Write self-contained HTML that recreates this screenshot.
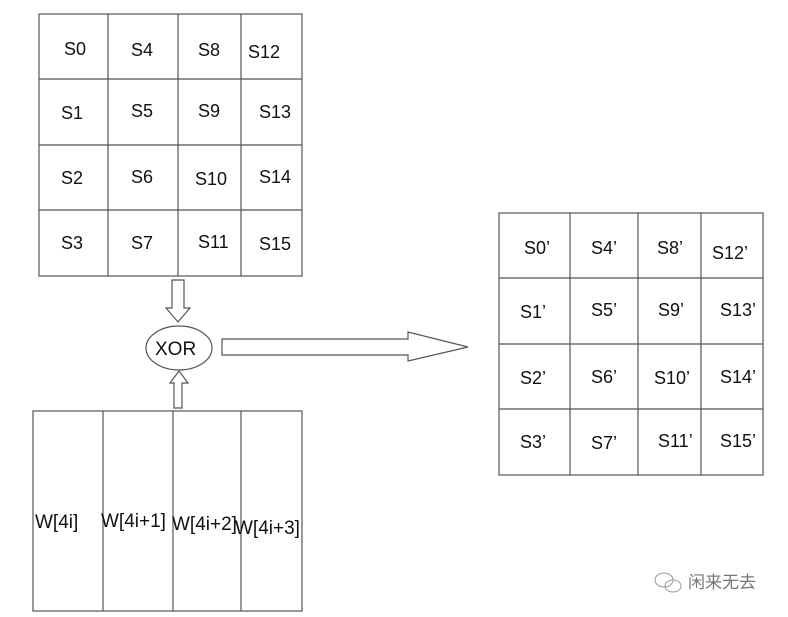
<!DOCTYPE html>
<html><head><meta charset="utf-8"><style>
html,body{margin:0;padding:0;background:#fff;width:788px;height:617px;overflow:hidden}
svg{display:block}
text{font-family:"Liberation Sans","Noto Sans CJK SC",sans-serif;fill:#111}
</style></head><body>
<svg width="788" height="617" viewBox="0 0 788 617">
<g stroke="#555" stroke-width="1.2" fill="none">
<rect x="39" y="14" width="263" height="262"/>
<line x1="108" y1="14" x2="108" y2="276"/><line x1="178" y1="14" x2="178" y2="276"/><line x1="241" y1="14" x2="241" y2="276"/>
<line x1="39" y1="79" x2="302" y2="79"/><line x1="39" y1="145" x2="302" y2="145"/><line x1="39" y1="210" x2="302" y2="210"/>
<rect x="499" y="213" width="264" height="262"/>
<line x1="570" y1="213" x2="570" y2="475"/><line x1="638" y1="213" x2="638" y2="475"/><line x1="701" y1="213" x2="701" y2="475"/>
<line x1="499" y1="278" x2="763" y2="278"/><line x1="499" y1="344" x2="763" y2="344"/><line x1="499" y1="409" x2="763" y2="409"/>
<rect x="33" y="411" width="269" height="200"/>
<line x1="103" y1="411" x2="103" y2="611"/><line x1="173" y1="411" x2="173" y2="611"/><line x1="241" y1="411" x2="241" y2="611"/>
<polygon points="172,280 184,280 184,308 190,308 178,322 166,308 172,308"/>
<ellipse cx="179" cy="348" rx="33" ry="22"/>
<polygon points="174,408 182,408 182,383 188,383 179,371 170,383 174,383"/>
<polygon points="222,339 408,339 408,332 468,347 408,361 408,355 222,355"/>
</g>
<g font-size="18">
<text x="64" y="55">S0</text><text x="131" y="56">S4</text><text x="198" y="56">S8</text><text x="248" y="58">S12</text>
<text x="61" y="119">S1</text><text x="131" y="117">S5</text><text x="198" y="117">S9</text><text x="259" y="118">S13</text>
<text x="61" y="184">S2</text><text x="131" y="183">S6</text><text x="195" y="185">S10</text><text x="259" y="183">S14</text>
<text x="61" y="249">S3</text><text x="131" y="249">S7</text><text x="198" y="248">S11</text><text x="259" y="250">S15</text>
<text x="524" y="254">S0’</text><text x="591" y="254">S4’</text><text x="657" y="254">S8’</text><text x="712" y="259">S12’</text>
<text x="520" y="318">S1’</text><text x="591" y="316">S5’</text><text x="658" y="316">S9’</text><text x="720" y="316">S13’</text>
<text x="520" y="384">S2’</text><text x="591" y="383">S6’</text><text x="654" y="384">S10’</text><text x="720" y="383">S14’</text>
<text x="520" y="448">S3’</text><text x="591" y="449">S7’</text><text x="658" y="447">S11’</text><text x="720" y="447">S15’</text>
<text x="155" y="355" font-size="19">XOR</text>
<text x="35" y="528" font-size="19">W[4i]</text>
<text x="101" y="527" font-size="19">W[4i+1]</text>
<text x="172" y="530" font-size="19">W[4i+2]</text>
<text x="235" y="534" font-size="19">W[4i+3]</text>
</g>
<g stroke="#999" fill="none" stroke-width="1">
<ellipse cx="664" cy="580" rx="9" ry="7"/><ellipse cx="673" cy="586" rx="8" ry="6"/>
</g>
<text x="688" y="588" font-size="17" style="fill:#777">闲来无去</text>
</svg>
</body></html>
